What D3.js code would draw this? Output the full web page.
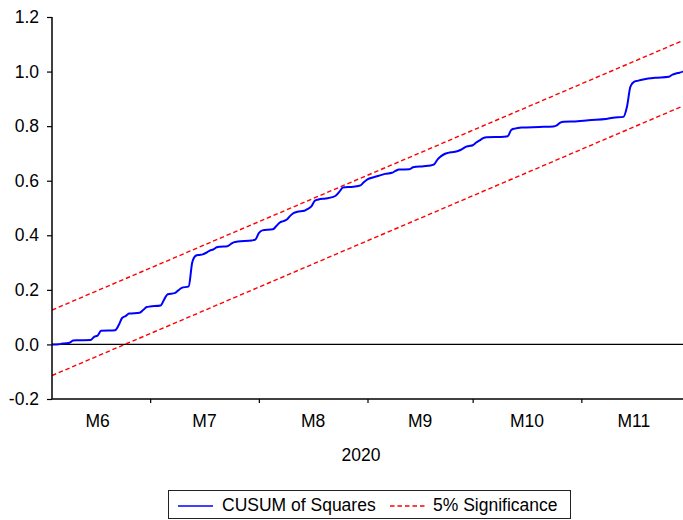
<!DOCTYPE html>
<html>
<head>
<meta charset="utf-8">
<script src="https://cdn.jsdelivr.net/npm/d3@7"></script>
<style>
  html, body { margin: 0; padding: 0; background: #fff; }
  svg { display: block; }
  text { font-family: "Liberation Sans", Arial, sans-serif; fill: #000; }
</style>
</head>
<body>
<svg id="chart" width="683" height="520"></svg>
<script>
// CUSUM of squares test statistic, daily observations 2020
const obsDates = [
  "2020-06-03","2020-06-05","2020-06-06","2020-06-07","2020-06-08","2020-06-09","2020-06-10",
  "2020-06-14","2020-06-15","2020-06-16","2020-06-17","2020-06-21","2020-06-22","2020-06-23",
  "2020-06-24","2020-06-25","2020-06-28","2020-06-29","2020-06-30","2020-07-01","2020-07-04",
  "2020-07-05","2020-07-06","2020-07-08","2020-07-09","2020-07-10","2020-07-12","2020-07-13",
  "2020-07-14","2020-07-15","2020-07-16","2020-07-17","2020-07-18","2020-07-19","2020-07-20",
  "2020-07-21","2020-07-23","2020-07-24","2020-07-25","2020-07-26","2020-07-30","2020-07-31",
  "2020-08-01","2020-08-02","2020-08-05","2020-08-06","2020-08-07","2020-08-08","2020-08-09",
  "2020-08-10","2020-08-11","2020-08-12","2020-08-14","2020-08-15","2020-08-16","2020-08-17",
  "2020-08-18","2020-08-20","2020-08-22","2020-08-23","2020-08-24","2020-08-25","2020-08-28",
  "2020-08-30","2020-08-31","2020-09-01","2020-09-02","2020-09-04","2020-09-06","2020-09-08",
  "2020-09-09","2020-09-10","2020-09-13","2020-09-14","2020-09-17","2020-09-19","2020-09-20",
  "2020-09-21","2020-09-22","2020-09-23","2020-09-24","2020-09-26","2020-09-27","2020-09-28",
  "2020-09-29","2020-09-30","2020-10-01","2020-10-02","2020-10-03","2020-10-04","2020-10-05",
  "2020-10-10","2020-10-11","2020-10-12","2020-10-13","2020-10-15","2020-10-20","2020-10-24",
  "2020-10-25","2020-10-26","2020-10-27","2020-10-31","2020-11-03","2020-11-08","2020-11-10",
  "2020-11-13","2020-11-14","2020-11-15","2020-11-16","2020-11-17","2020-11-19","2020-11-22",
  "2020-11-26","2020-11-27","2020-11-28","2020-11-29","2020-11-30"
];
const cusumSq = [
  0.000,0.001,0.003,0.004,0.006,0.014,0.015,
  0.016,0.028,0.032,0.050,0.052,0.070,0.097,
  0.104,0.113,0.116,0.126,0.137,0.139,0.143,
  0.165,0.184,0.188,0.198,0.207,0.213,0.300,
  0.325,0.328,0.330,0.336,0.344,0.348,0.356,
  0.358,0.360,0.368,0.375,0.377,0.381,0.384,
  0.408,0.418,0.422,0.434,0.447,0.452,0.458,
  0.472,0.482,0.486,0.490,0.497,0.506,0.527,
  0.531,0.535,0.540,0.546,0.560,0.575,0.578,
  0.583,0.595,0.605,0.610,0.617,0.625,0.629,
  0.636,0.641,0.642,0.649,0.653,0.656,0.660,
  0.678,0.690,0.698,0.702,0.706,0.710,0.716,
  0.724,0.727,0.730,0.740,0.748,0.756,0.759,
  0.761,0.763,0.786,0.791,0.795,0.797,0.799,
  0.803,0.813,0.816,0.818,0.822,0.826,0.831,
  0.834,0.870,0.945,0.962,0.966,0.972,0.977,
  0.981,0.989,0.993,0.996,1.000
];

// 5% significance bounds at the first and last observation
const boundDates = ["2020-06-03", "2020-11-30"];
const upperBound = [0.126, 1.114];
const lowerBound = [-0.114, 0.874];

// axis labels
const yTicks = [-0.2, 0.0, 0.2, 0.4, 0.6, 0.8, 1.0, 1.2];
const yTickLabels = ["-0.2", "0.0", "0.2", "0.4", "0.6", "0.8", "1.0", "1.2"];
const monthStarts = ["2020-06-01","2020-07-01","2020-08-01","2020-09-01","2020-10-01","2020-11-01","2020-12-01"];
const monthLabels = ["M6","M7","M8","M9","M10","M11"];
const yearLabel = "2020";
const legendLabels = ["CUSUM of Squares", "5% Significance"];

const parse = d3.utcParse("%Y-%m-%d");
const svg = d3.select("#chart");
const plotLeft = 52, plotRight = 683, plotTop = 17, plotBottom = 399;

const x = d3.scaleUtc()
  .domain([parse(obsDates[0]), parse(obsDates[obsDates.length - 1])])
  .range([plotLeft, plotRight]);
const y = d3.scaleLinear().domain([-0.2, 1.2]).range([plotBottom, plotTop]);

svg.append("defs").append("clipPath").attr("id", "plotclip")
  .append("rect").attr("x", plotLeft).attr("y", 0)
  .attr("width", plotRight - plotLeft).attr("height", plotBottom);
const plot = svg.append("g");

// zero reference line
plot.append("line")
  .attr("x1", plotLeft).attr("x2", plotRight)
  .attr("y1", y(0)).attr("y2", y(0))
  .attr("stroke", "#000").attr("stroke-width", 1.2);

// significance bounds
const bline = d3.line().x(d => x(d[0])).y(d => y(d[1]));
[upperBound, lowerBound].forEach(b => {
  plot.append("path")
    .datum(boundDates.map((d, i) => [parse(d), b[i]]))
    .attr("d", bline)
    .attr("fill", "none")
    .attr("stroke", "#ff0000")
    .attr("stroke-width", 1.4)
    .attr("stroke-dasharray", "4.5,2.8")
    .attr("clip-path", "url(#plotclip)");
});

// CUSUM of squares
const series = obsDates.map((d, i) => [parse(d), cusumSq[i]]);
plot.append("path")
  .datum(series)
  .attr("d", d3.line().x(d => x(d[0])).y(d => y(d[1])).curve(d3.curveMonotoneX))
  .attr("fill", "none")
  .attr("stroke", "#0000ff")
  .attr("stroke-width", 2)
  .attr("stroke-linejoin", "round");

// y axis
const yAxis = svg.append("g")
  .attr("transform", `translate(${plotLeft},0)`)
  .call(d3.axisLeft(y).tickValues(yTicks).tickSize(5).tickPadding(8)
    .tickFormat((d, i) => yTickLabels[i]));
yAxis.select(".domain").attr("stroke", "#000").attr("stroke-width", 1.5)
  .attr("d", `M0,${plotTop}V${plotBottom}`);
yAxis.selectAll(".tick line").attr("stroke", "#000").attr("stroke-width", 1.2);
yAxis.selectAll(".tick text").attr("font-size", 17.5)
  .attr("font-family", "'Liberation Sans', Arial, sans-serif");

// x axis with month boundary ticks
const bounds = monthStarts.map(parse);
const xAxis = svg.append("g")
  .attr("transform", `translate(0,${plotBottom})`)
  .call(d3.axisBottom(x).tickValues(bounds.slice(1, 6)).tickSize(4).tickFormat(""));
xAxis.select(".domain").attr("stroke", "#000").attr("stroke-width", 1.5)
  .attr("d", `M${plotLeft},0H${plotRight}`);
xAxis.selectAll(".tick line").attr("stroke", "#000").attr("stroke-width", 1.2);

// month labels centred on each month
monthLabels.forEach((m, i) => {
  const mid = new Date((bounds[i].getTime() + bounds[i + 1].getTime()) / 2);
  svg.append("text")
    .attr("x", x(mid)).attr("y", 427)
    .attr("text-anchor", "middle")
    .attr("font-size", 17.5)
    .text(m);
});
svg.append("text")
  .attr("x", 361).attr("y", 461)
  .attr("text-anchor", "middle")
  .attr("font-size", 17.5)
  .text(yearLabel);

// legend
const lg = svg.append("g");
lg.append("rect")
  .attr("x", 168.5).attr("y", 490.5).attr("width", 402).attr("height", 28)
  .attr("fill", "#fff").attr("stroke", "#222").attr("stroke-width", 1);
lg.append("line").attr("x1", 178).attr("x2", 213).attr("y1", 506).attr("y2", 506)
  .attr("stroke", "#0000ff").attr("stroke-width", 1.5);
lg.append("text").attr("x", 222).attr("y", 511).attr("font-size", 17.5).text(legendLabels[0]);
lg.append("line").attr("x1", 390).attr("x2", 427).attr("y1", 506).attr("y2", 506)
  .attr("stroke", "#ff0000").attr("stroke-width", 1.3).attr("stroke-dasharray", "4.5,3");
lg.append("text").attr("x", 433).attr("y", 511).attr("font-size", 17.5).text(legendLabels[1]);
</script>
</body>
</html>
